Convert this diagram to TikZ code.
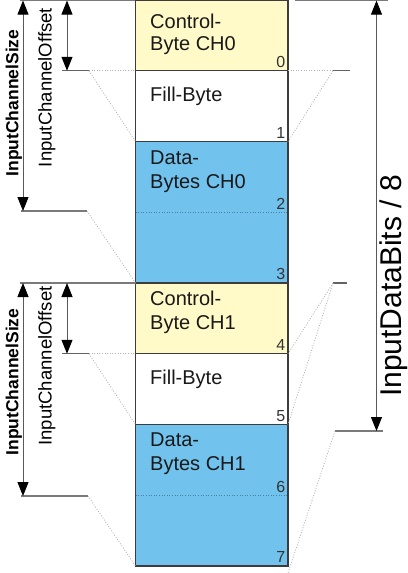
\documentclass[tikz,border=0pt]{standalone}
\usepackage{fontspec}
\setmainfont{Liberation Sans}
\usetikzlibrary{arrows.meta}
\definecolor{yel}{HTML}{FFFAC8}
\definecolor{blu}{HTML}{72C2EE}
\definecolor{framec}{HTML}{3C3C3C}
\definecolor{guide}{HTML}{B4B4B4}
\definecolor{rulerc}{HTML}{7A7A7A}
\definecolor{datadot}{HTML}{4A80A8}
\begin{document}
\begin{tikzpicture}[x=1pt,y=-1pt,
  cell/.style={draw=framec, line width=1.2pt, minimum width=152.5pt, inner sep=0pt, outer sep=0pt, anchor=north west},
  celltext/.style={anchor=base west, inner sep=0pt, font=\fontsize{20}{23}\selectfont, text=black!90},
  idx/.style={anchor=base east, inner sep=0pt, font=\fontsize{16}{16}\selectfont, text=black!80},
  guideline/.style={draw=guide, line width=0.8pt, dash pattern=on 1pt off 1.6pt},
  datasep/.style={draw=datadot, line width=0.9pt, dash pattern=on 1pt off 1.6pt},
  rulerline/.style={draw=rulerc, line width=1.3pt},
  tickline/.style={draw=framec!80, line width=1.1pt},
  dim/.style={draw=black!65, line width=0.9pt, {Triangle[length=14pt,width=11pt,color=black]}-{Triangle[length=14pt,width=11pt,color=black]}},
  sizelbl/.style={rotate=90, anchor=base, inner sep=0pt, font=\bfseries\fontsize{17.5}{17.5}\selectfont},
  offlbl/.style={rotate=90, anchor=base, inner sep=0pt, font=\fontsize{18.5}{18.5}\selectfont},
  biglbl/.style={rotate=90, anchor=base, inner sep=0pt, font=\fontsize{30}{30}\selectfont}
]
\useasboundingbox (0,0) rectangle (407,573);

% ---- column cells ----
\node[cell, fill=yel,   minimum height=70.75pt]  (ctlA)  at (135.5,0) {};
\node[cell, fill=white, minimum height=70.75pt]  (fillA) at (135.5,70.75) {};
\node[cell, fill=blu,   minimum height=141.5pt]  (dataA) at (135.5,141.5) {};
\node[cell, fill=yel,   minimum height=70.75pt]  (ctlB)  at (135.5,283) {};
\node[cell, fill=white, minimum height=70.75pt]  (fillB) at (135.5,353.75) {};
\node[cell, fill=blu,   minimum height=141.5pt]  (dataB) at (135.5,424.5) {};
\draw[datasep] (dataA.west) -- (dataA.east);
\draw[datasep] (dataB.west) -- (dataB.east);

% ---- cell texts ----
\node[celltext] (tA1) at (150,28) {Control-};
\node[celltext] (tA2) at (150,50) {Byte CH0};
\node[celltext] (tA3) at (150,101) {Fill-Byte};
\node[celltext] (tA4) at (150,164) {Data-};
\node[celltext] (tA5) at (150,188) {Bytes CH0};
\node[celltext] (tB1) at (150,305) {Control-};
\node[celltext] (tB2) at (150,329) {Byte CH1};
\node[celltext] (tB3) at (150,384) {Fill-Byte};
\node[celltext] (tB4) at (150,446) {Data-};
\node[celltext] (tB5) at (150,470) {Bytes CH1};

% ---- byte indices ----
\node[idx] (n0) at (285.5,67.5)  {0};
\node[idx] (n1) at (285.5,138.3) {1};
\node[idx] (n2) at (285.5,209)   {2};
\node[idx] (n3) at (285.5,279.8) {3};
\node[idx] (n4) at (285.5,350.5) {4};
\node[idx] (n5) at (285.5,421.3) {5};
\node[idx] (n6) at (285.5,492)   {6};
\node[idx] (n7) at (285.5,562.8) {7};

% ---- left side, channel 0 ----
\coordinate (LA0) at (20,0.6);
\coordinate (LA0e) at (135,0.6);
\coordinate (SA0) at (23,0.6);
\coordinate (SA1) at (23,211);
\coordinate (OA0) at (67,0.6);
\coordinate (OA1) at (67,70.75);
\coordinate (TA0) at (62,70.75);
\coordinate (TA1) at (89,70.75);
\coordinate (BA0) at (21,211);
\coordinate (BA1) at (87,211);
\draw[rulerline] (LA0) -- (LA0e);
\draw[tickline] (TA0) -- (TA1);
\draw[rulerline] (BA0) -- (BA1);
\draw[dim] (SA0) -- (SA1);
\draw[dim] (OA0) -- (OA1);
\draw[guideline] (TA1) -- (fillA.north west);
\draw[guideline] (TA1) -- (dataA.north west);
\draw[guideline] (BA1) -- (ctlB.north west);
\node[sizelbl] (szA) at (18.3,103) {InputChannelSize};
\node[offlbl] (ofA) at (51.7,87.5) {InputChannelOffset};

% ---- left side, channel 1 ----
\coordinate (LB0) at (20,283);
\coordinate (SB0) at (23,283);
\coordinate (SB1) at (23,496);
\coordinate (OB0) at (67,283);
\coordinate (OB1) at (67,353.75);
\coordinate (TB0) at (62,353.75);
\coordinate (TB1) at (89,353.75);
\coordinate (BB0) at (21,496);
\coordinate (BB1) at (88,496);
\draw[rulerline] (LB0) -- (ctlB.north west);
\draw[tickline] (TB0) -- (TB1);
\draw[rulerline] (BB0) -- (BB1);
\draw[dim] (SB0) -- (SB1);
\draw[dim] (OB0) -- (OB1);
\draw[guideline] (TB1) -- (fillB.north west);
\draw[guideline] (TB1) -- (dataB.north west);
\draw[guideline] (BB1) -- (dataB.south west);
\node[sizelbl] (szB) at (18.3,382) {InputChannelSize};
\node[offlbl] (ofB) at (51.7,366) {InputChannelOffset};

% ---- right side ----
\coordinate (RT0) at (295,0.6);
\coordinate (RT1) at (388,0.6);
\coordinate (RA0) at (376.5,0.6);
\coordinate (RA1) at (376.5,431);
\coordinate (RB0) at (335,431);
\coordinate (RB1) at (383,431);
\coordinate (RK0) at (333,70.75);
\coordinate (RK1) at (350,70.75);
\coordinate (RM0) at (333,283);
\coordinate (RM1) at (347,283);
\coordinate (RE) at (288,573);
\draw[rulerline] (RT0) -- (RT1);
\draw[rulerline] (RB0) -- (RB1);
\draw[tickline] (RK0) -- (RK1);
\draw[tickline] (RM0) -- (RM1);
\draw[guideline] (fillA.north east) -- (RK0);
\draw[guideline] (RK0) -- (dataA.north east);
\draw[guideline] (RM0) -- (fillB.north east);
\draw[guideline] (RM0) -- (dataB.north east);
\draw[guideline] (RB0) -- (RE);
\draw[dim] (RA0) -- (RA1);
\node[biglbl] (idb) at (401.5,286) {InputDataBits / 8};
\end{tikzpicture}
\end{document}
